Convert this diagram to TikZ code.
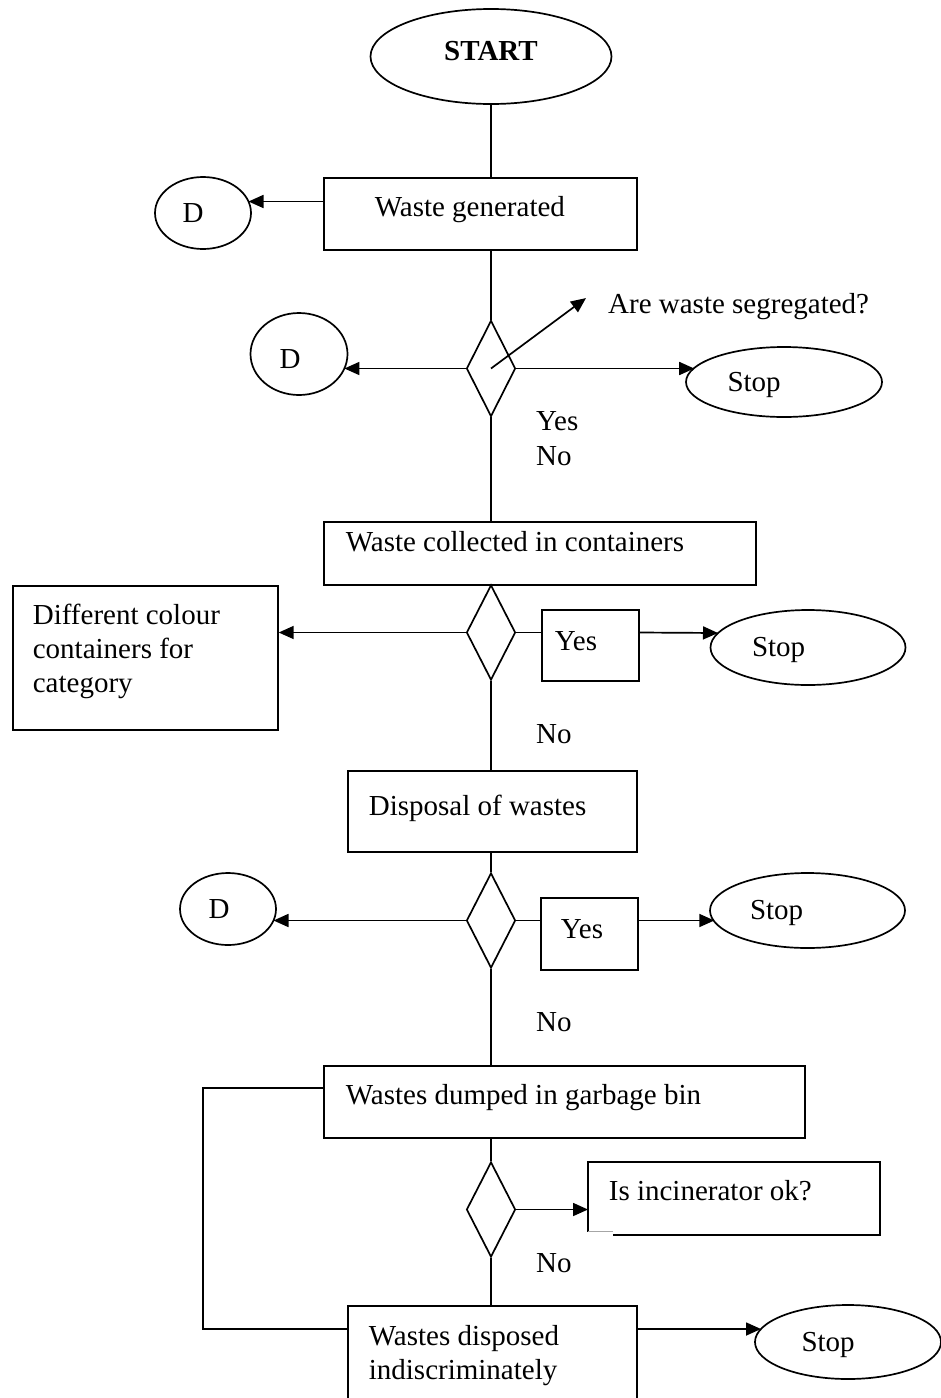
\documentclass[tikz,border=0pt]{standalone}
\usepackage{fontspec}
\setmainfont{Liberation Serif}
\usetikzlibrary{shapes.geometric,arrows.meta,calc}
\begin{document}
\begin{tikzpicture}[x=1pt,y=-1pt,
  every node/.style={font=\fontsize{29}{34}\selectfont},
  ln/.style={line width=1.7pt},
  arr/.style={ln,-{Triangle[length=15pt,width=13pt]}},
  box/.style={rectangle,draw,line width=1.7pt,anchor=north west,inner ysep=0pt,align=flush left,text height=20pt,text depth=15pt},
  term/.style={ellipse,draw,line width=1.7pt,inner sep=0pt,align=flush left,text height=20pt,text depth=2pt},
  dec/.style={diamond,draw,line width=1.7pt,inner sep=0pt,minimum width=49pt},
  lbl/.style={inner sep=0pt,anchor=base west}
]
\fill[white] (0,0) rectangle (941,1398);
\useasboundingbox (0,0) rectangle (941,1398);
\clip (0,0) rectangle (941,1398);

% terminals
\node[term,align=center,minimum width=241pt,minimum height=95pt,font=\fontsize{29}{34}\selectfont\bfseries,text depth=13pt] (st) at (491,56.5) {START};
\node[term,minimum width=96pt,minimum height=72pt,text width=41pt] (D1) at (203,213) {D};
\node[term,minimum width=97pt,minimum height=82pt,text width=39pt,text height=30pt] (D2) at (299,354) {D};
\node[term,minimum width=96pt,minimum height=72pt,text width=39pt] (D3) at (228,909) {D};
\node[term,minimum width=196pt,minimum height=70pt,text width=113pt] (S1) at (784,382) {Stop};
\node[term,minimum width=195pt,minimum height=75pt,text width=112pt] (S2) at (808,647.5) {Stop};
\node[term,minimum width=195pt,minimum height=75pt,text width=115pt] (S3) at (807.5,910.5) {Stop};
\node[term,minimum width=186pt,minimum height=74pt,text width=93pt] (S4) at (848,1342) {Stop};

% process boxes
\node[box,minimum width=313pt,minimum height=72pt,inner xsep=51pt,text width=211pt] (b1) at (323,177) {Waste generated};
\node[box,minimum width=432pt,minimum height=63pt,inner xsep=22pt,text width=388pt,text depth=23pt] (b2) at (323,521) {Waste collected in containers};
\node[box,minimum width=265pt,minimum height=144pt,inner xsep=20pt,text width=225pt,text depth=86pt] (bcol) at (12,585) {Different colour\\containers for\\category};
\node[box,minimum width=97pt,minimum height=71pt,inner xsep=13pt,text width=71pt,text depth=10pt] (y1) at (541,609) {Yes};
\node[box,minimum width=289pt,minimum height=81pt,inner xsep=21pt,text width=247pt,text depth=11pt] (b3) at (347,770) {Disposal of wastes};
\node[box,minimum width=97pt,minimum height=72pt,inner xsep=20pt,text width=57pt,text depth=10pt] (y2) at (540,897) {Yes};
\node[box,minimum width=481pt,minimum height=72pt,inner xsep=22pt,text width=437pt] (b4) at (323,1065) {Wastes dumped in garbage bin};
\node[box,draw=none,minimum width=290pt,minimum height=71pt,inner xsep=20pt,text width=250pt] (b5) at (588,1162) {Is incinerator ok?};
\node[box,minimum width=289pt,minimum height=130pt,inner xsep=21pt,text width=247pt,text depth=70pt] (b6) at (347,1305) {Wastes disposed\\indiscriminately};

% decisions
\node[dec,minimum height=96pt] (d1) at (491,368.5) {};
\node[dec,minimum height=95pt] (d2) at (491,632.5) {};
\node[dec,minimum height=95pt] (d3) at (491,920.5) {};
\node[dec,minimum height=95pt] (d4) at (491,1209.5) {};

% labels
\node[lbl] (q) at (608,313) {Are waste segregated?};
\node[lbl] (yes1) at (536,430) {Yes};
\node[lbl] (no1) at (536,465) {No};
\node[lbl] (no2) at (536,743) {No};
\node[lbl] (no3) at (536,1031) {No};
\node[lbl] (no4) at (536,1272) {No};

% incinerator box border (with its small gap)
\draw[ln] ($(b5.south west)+(0,-3)$) -- (b5.north west) -- (b5.north east) -- (b5.south east) -- ($(b5.south west)+(25,0)$);
\draw[line width=0.8pt,black!35] ($(b5.south west)+(0,-3)$) -- ($(b5.south west)+(25,-3)$);

% main spine
\draw[ln] (st.south) -- (st.south |- b1.north);
\draw[ln] (d1.north |- b1.south) -- (d1.north);
\draw[ln] (d1.south) -- (d1.south |- b2.north);
\draw[ln] (d2.south) -- (d2.south |- b3.north);
\draw[ln] (d3.north |- b3.south) -- (d3.north);
\draw[ln] (d3.south) -- (d3.south |- b4.north);
\draw[ln] (d4.north |- b4.south) -- (d4.north);
\draw[ln] (d4.south) -- (d4.south |- b6.north);

% side connectors
\draw[arr] ($(b1.north west)+(0,24.5)$) -- ($(D1.center)+(45.5,-11.5)$);
\draw[arr] (d1.west) -- ($(D2.center)+(45.4,14.5)$);
\draw[arr] (d1.east) -- ($(S1.center)+(-89.8,-13.5)$);
\draw[arr] (d1.center) -- ($(q.west)+(-22,-8)$);
\draw[arr] (d2.west) -- (d2.west -| bcol.east);
\draw[ln] (d2.east) -- (d2.east -| y1.west);
\draw[arr] (d2.east -| y1.east) -- ($(S2.center)+(-90,-14.5)$);
\draw[arr] (d3.west) -- ($(D3.center)+(45.5,11.5)$);
\draw[ln] (d3.east) -- (d3.east -| y2.west);
\draw[arr] (d3.east -| y2.east) -- ($(S3.center)+(-93.2,10)$);
\draw[arr] (d4.east) -- (d4.east -| b5.west);

% loop and final stop
\coordinate (c4) at ($(b4.north west)+(0,23)$);
\coordinate (c6) at ($(b6.north west)+(0,24)$);
\coordinate (L) at (203,0);
\draw[ln] (c6) -- (c6 -| L) |- (c4);
\draw[arr] (c6 -| b6.east) -- ($(S4.center)+(-87,-13)$);
\end{tikzpicture}
\end{document}
